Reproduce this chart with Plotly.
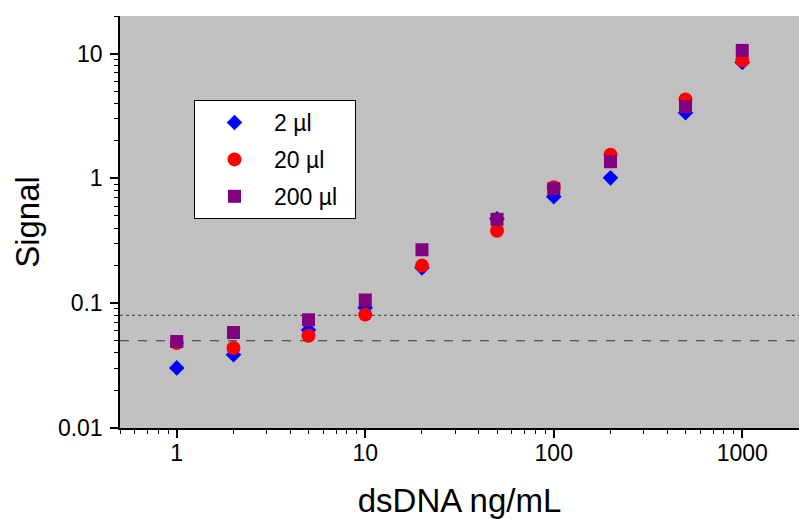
import numpy as np
import plotly.graph_objects as go

conc = [1, 2, 5, 10, 20, 50, 100, 200, 500, 1000]
sig_2ul = [0.0303, 0.0386, 0.061, 0.092, 0.192, 0.475, 0.713, 1.01, 3.36, 8.47]
sig_20ul = [0.048, 0.0438, 0.0548, 0.081, 0.2, 0.381, 0.85, 1.55, 4.28, 8.8]
sig_200ul = [0.0493, 0.0582, 0.0736, 0.106, 0.268, 0.47, 0.826, 1.36, 3.76, 10.6]
series_names = ["2 µl", "20 µl", "200 µl\u00a0\u00a0"]
thresholds = [0.08, 0.05]
threshold_styles = ["dot", "dash"]
x_range = [0.5, 2000]
y_range = [0.01, 20]
x_ticks = [1, 10, 100, 1000]
x_ticklabels = ["1", "10", "100", "1000"]
y_ticks = [0.01, 0.1, 1, 10]
y_ticklabels = ["0.01", "0.1", "1", "10"]

font = "Liberation Sans, Arial, sans-serif"

fig = go.Figure()

for th, dash in zip(thresholds, threshold_styles):
    fig.add_trace(go.Scatter(
        x=x_range, y=[th, th], mode="lines",
        line=dict(color="#333333", width=1, dash=dash),
        showlegend=False, hoverinfo="skip"))

styles = [
    dict(symbol="diamond", color="#0000FF", size=12),
    dict(symbol="circle", color="#FF0000", size=14),
    dict(symbol="square", color="#800080", size=13),
]
for name, ys, st, grp in zip(series_names, [sig_2ul, sig_20ul, sig_200ul], styles, ["a", "b", "c"]):
    fig.add_trace(go.Scatter(
        x=conc, y=ys, mode="markers", name=name, legendgroup=grp,
        marker=dict(symbol=st["symbol"], color=st["color"], size=st["size"],
                    line=dict(width=0))))

fig.update_layout(
    width=799, height=519,
    margin=dict(l=120, r=0, t=16, b=91, autoexpand=False),
    paper_bgcolor="white",
    plot_bgcolor="#C0C0C0",
    font=dict(family=font, color="black"),
    legend=dict(
        x=0.109, y=0.796, xanchor="left", yanchor="top",
        bgcolor="white", bordercolor="black", borderwidth=1,
        font=dict(size=23, family=font), itemwidth=69,
        tracegroupgap=4,
    ),
)

fig.update_xaxes(
    type="log", range=[np.log10(x_range[0]), np.log10(x_range[1])],
    tickvals=x_ticks, ticktext=x_ticklabels, automargin=False,
    ticks="outside", ticklen=8, tickwidth=1.5, tickcolor="black",
    showline=True, linecolor="black", linewidth=1.5,
    showgrid=False, zeroline=False,
    tickfont=dict(size=23, family=font), ticklabelstandoff=-4,
    minor=dict(ticks="outside", ticklen=4, tickwidth=1, tickcolor="black",
               dtick="D1", showgrid=False),
    title=dict(text="dsDNA ng/mL", font=dict(size=33, family=font), standoff=39),
)
fig.update_yaxes(
    type="log", range=[np.log10(y_range[0]), np.log10(y_range[1])],
    tickvals=y_ticks, ticktext=y_ticklabels, automargin=False,
    ticks="outside", ticklen=8, tickwidth=1.5, tickcolor="black",
    showline=True, linecolor="black", linewidth=1.5,
    showgrid=False, zeroline=False,
    tickfont=dict(size=23, family=font), ticklabelstandoff=3,
    minor=dict(ticks="outside", ticklen=4, tickwidth=1, tickcolor="black",
               dtick="D1", showgrid=False),
    title=dict(text="Signal", font=dict(size=33, family=font), standoff=8),
)

fig.write_html(
    "out.html",
    config={"displayModeBar": False},
    post_script="document.body.style.margin='0';document.body.style.overflow='hidden';",
)
